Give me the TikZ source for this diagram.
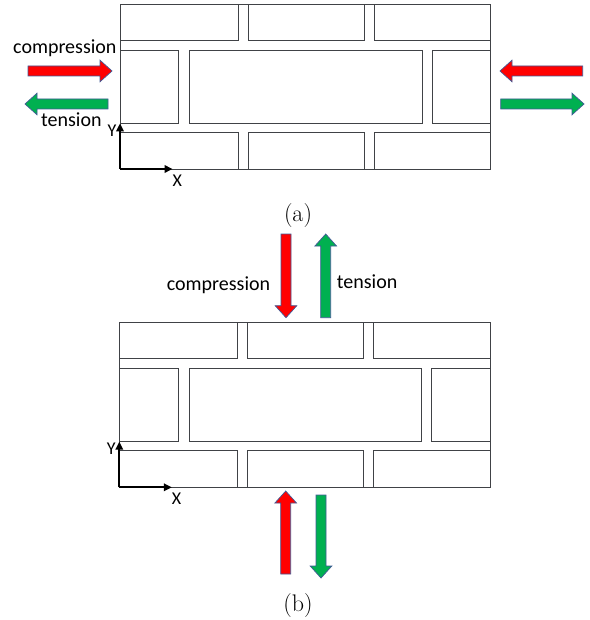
\documentclass[tikz,border=0pt]{standalone}
\usepackage{fontspec}
\newfontfamily\labelfont{Carlito}
\usetikzlibrary{arrows.meta}

\definecolor{brickline}{RGB}{64,66,70}
\definecolor{pushred}{RGB}{255,0,0}
\definecolor{pullgreen}{RGB}{0,176,80}
\definecolor{arrowedge}{RGB}{65,90,150}

\tikzset{
  brick/.style={draw=brickline, line width=0.9pt},
  axis/.style={draw=black, line width=1.9pt, -{Triangle[length=8pt,width=7.5pt]}},
  forcelabel/.style={font=\labelfont\fontsize{20}{24}\selectfont, inner sep=0pt, anchor=base west},
  axislabel/.style={font=\labelfont\fontsize{18}{21}\selectfont, inner sep=0pt},
  caption/.style={font=\fontsize{24}{28}\selectfont, inner sep=0pt},
  % block arrow: length #1, fill colour #2, tail at the pic origin, pointing along +x
  pics/fatarrow/.style n args={2}{code={
    \filldraw[fill=#2, draw=arrowedge, line width=0.7pt, line join=miter]
      (0,5) -- ({#1-12},5) -- ({#1-12},10.8) -- (#1,0) -- ({#1-12},-10.8)
      -- ({#1-12},-5) -- (0,-5) -- cycle;
  }},
  % brick wall section with its local X/Y axes, origin at the top-left corner
  pics/wall/.style={code={
    \draw[brick] (0,0) rectangle (370.8,165);
    % top course
    \draw[brick] (0,0) rectangle (118.6,36.6);
    \draw[brick] (128.6,0) rectangle (244.6,36.6);
    \draw[brick] (254.2,0) rectangle (370.8,36.6);
    % middle course
    \draw[brick] (0,46.2) rectangle (58.8,119);
    \draw[brick] (69.8,46.2) rectangle (302.6,119);
    \draw[brick] (312.4,46.2) rectangle (370.8,119);
    % bottom course
    \draw[brick] (0,128.6) rectangle (118.6,165);
    \draw[brick] (128.6,128.6) rectangle (244.6,165);
    \draw[brick] (254.2,128.6) rectangle (370.8,165);
    % axes
    \coordinate (-origin) at (0,165);
    \coordinate (-yend) at (0,119.4);
    \coordinate (-xend) at (52.5,165);
    \draw[axis] (-origin) -- (-yend);
    \draw[axis] (-origin) -- (-xend);
    \node[axislabel] (-ylab) at (-8,126.5) {Y};
    \node[axislabel] (-xlab) at (57.3,176.5) {X};
  }}
}

\begin{document}
\begin{tikzpicture}[x=1pt, y=-1pt]
  \useasboundingbox (0,0) rectangle (589,620);

  % ---------------- (a): horizontal loading ----------------
  \pic (wa) at (120,4) {wall};
  \node[forcelabel] (compa) at (13,53.3) {compression};
  \node[forcelabel] (tensa) at (41,126.7) {tension};
  \pic at (28,71) {fatarrow={84}{pushred}};
  \pic[rotate=180] at (108,104) {fatarrow={83}{pullgreen}};
  \pic[rotate=180] at (582.7,71) {fatarrow={82.7}{pushred}};
  \pic at (500.7,104) {fatarrow={83.3}{pullgreen}};
  \node[caption] (capa) at (298,215.5) {(a)};

  % ---------------- (b): vertical loading ----------------
  \pic (wb) at (119.3,322.3) {wall};
  \node[forcelabel] (compb) at (166.7,290) {compression};
  \node[forcelabel] (tensb) at (336.7,288.5) {tension};
  \pic[rotate=-90] at (286,234) {fatarrow={83.7}{pushred}};
  \pic[rotate=90] at (325.7,317.7) {fatarrow={83.7}{pullgreen}};
  \pic[rotate=90] at (285.7,574) {fatarrow={83}{pushred}};
  \pic[rotate=-90] at (321,495) {fatarrow={83}{pullgreen}};
  \node[caption] (capb) at (298,605.5) {(b)};
\end{tikzpicture}
\end{document}
